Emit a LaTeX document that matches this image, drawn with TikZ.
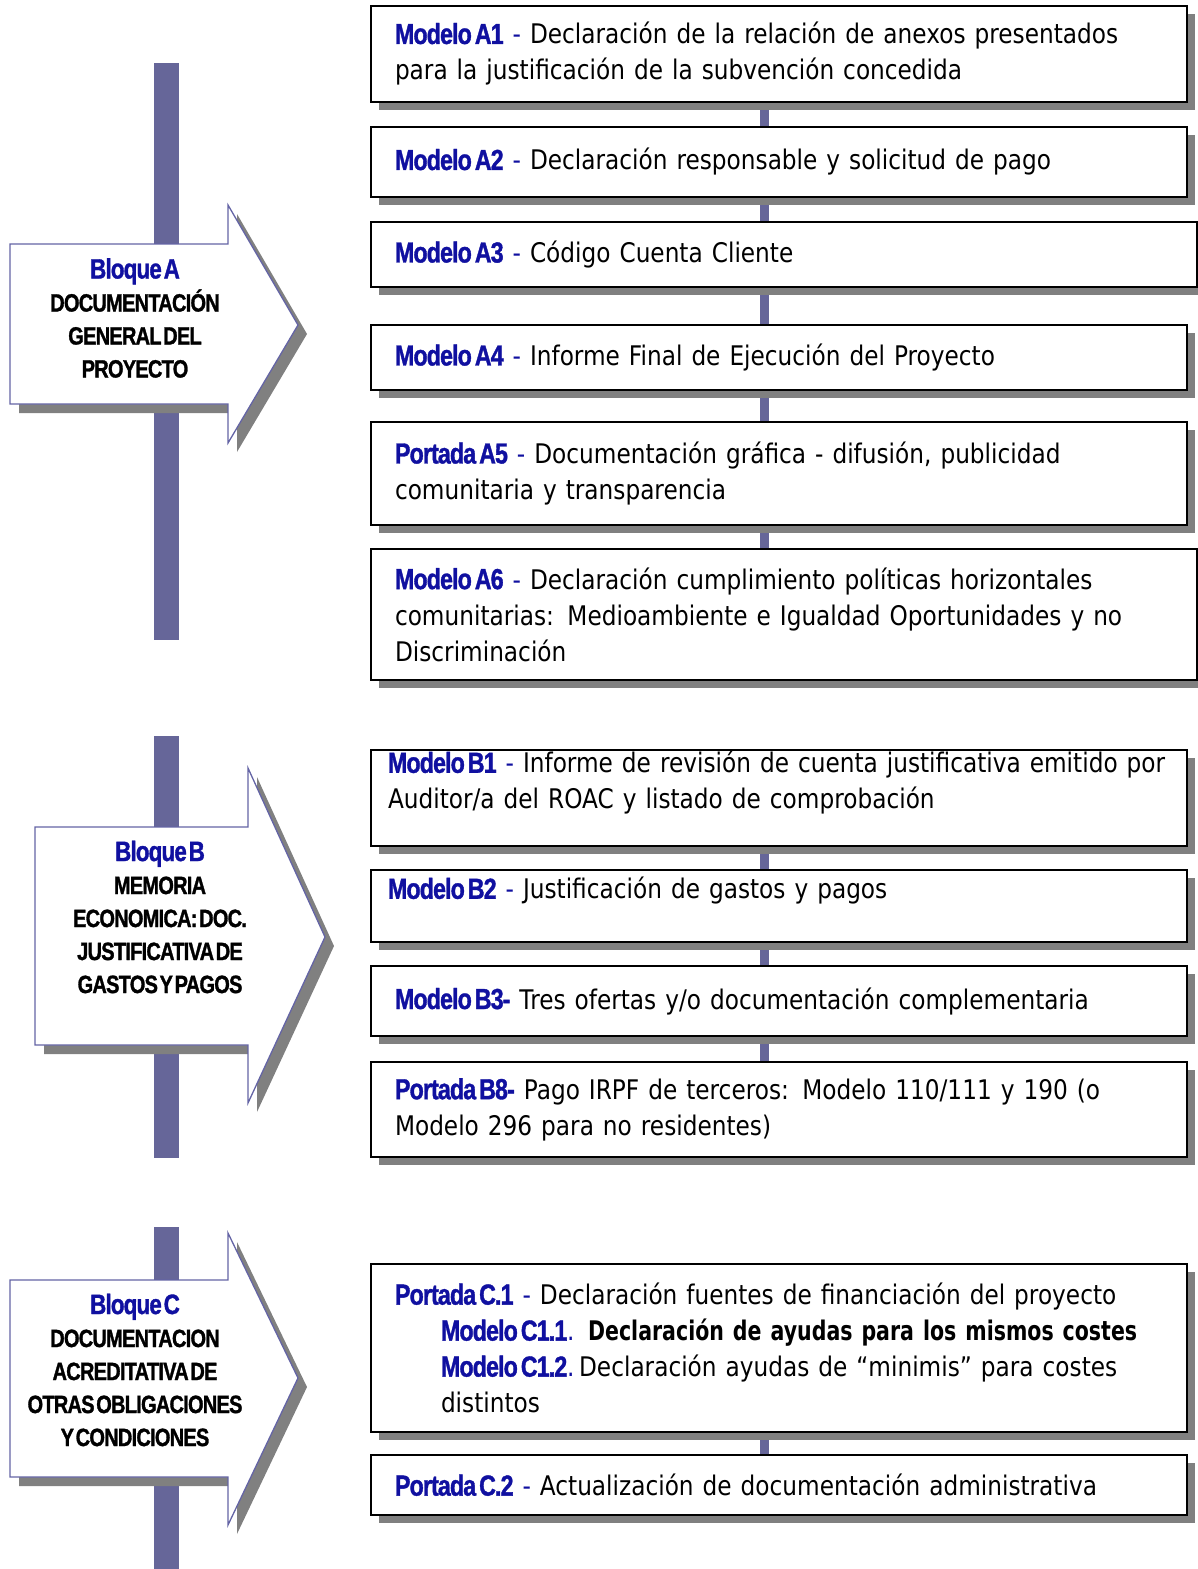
\documentclass[tikz,border=0pt]{standalone}
\usepackage{fontspec}
\setmainfont{DejaVu Sans}[FakeStretch=0.86]
\newfontfamily\narrowbold{Liberation Sans}[FakeStretch=0.8,LetterSpace=-3,WordSpace=0.35,FakeBold=1.2]
\newfontfamily\boldbody{DejaVu Sans}[FakeStretch=0.76]
\usepackage{tikz}
\usetikzlibrary{positioning, shadows, backgrounds}
\definecolor{blockblue}{RGB}{16,16,160}
\definecolor{barcolor}{RGB}{102,102,153}
\definecolor{shadegray}{RGB}{128,128,128}
\definecolor{arrowedge}{RGB}{100,100,165}
\newcommand{\modelo}[1]{{\color{blockblue}\narrowbold\bfseries\fontsize{29}{36}\selectfont\spaceskip=3pt\relax #1}}
\newcommand{\bluedash}{{\color{blockblue}\ -\ }}

\begin{document}
\begin{tikzpicture}[x=1pt, y=-1pt,
    box/.style={rectangle, draw=black, line width=2pt, fill=white, anchor=north west, outer sep=0pt, inner xsep=24pt, inner ysep=0pt, text width=768pt, align=left, font=\fontsize{27}{36}\selectfont, drop shadow={shadow xshift=8pt, shadow yshift=-8pt, fill=shadegray, opacity=1}},
    blockarrow/.style={draw=arrowedge, line width=1.3pt, fill=white, line join=miter, drop shadow={shadow xshift=9pt, shadow yshift=-9pt, fill=shadegray, opacity=1}},
    blocktext/.style={align=center, inner sep=0pt, font=\narrowbold\bfseries\fontsize{25}{33}\selectfont},
    link/.style={draw=barcolor, line width=9pt}
]
\useasboundingbox (0,0) rectangle (1198,1569);

% Block arrows
\path[blockarrow] (10,244) -- (228,244) -- (228,205) -- (298,325) -- (228,443) -- (228,404) -- (10,404) -- cycle;
\path[blockarrow] (35,827) -- (248,827) -- (248,768) -- (325,937) -- (248,1103) -- (248,1045) -- (35,1045) -- cycle;
\path[blockarrow] (10,1280) -- (228,1280) -- (228,1233) -- (298,1378) -- (228,1525) -- (228,1477) -- (10,1477) -- cycle;

\node[blocktext] (blqa) at (135,318) {{\color{blockblue}\fontsize{28}{33}\selectfont Bloque A}\\DOCUMENTACIÓN\\GENERAL DEL\\PROYECTO};
\node[blocktext] (blqb) at (160,917) {{\color{blockblue}\fontsize{28}{33}\selectfont Bloque B}\\MEMORIA\\ECONOMICA: DOC.\\JUSTIFICATIVA DE\\GASTOS Y PAGOS};
\node[blocktext] (blqc) at (135,1370) {{\color{blockblue}\fontsize{28}{33}\selectfont Bloque C}\\DOCUMENTACION\\ACREDITATIVA DE\\OTRAS OBLIGACIONES\\Y CONDICIONES};

% Bloque A
\node[box, minimum height=96pt] (a1) at (371,6) {\modelo{Modelo A1}\bluedash Declaración de la relación de anexos presentados\\para la justificación de la subvención concedida};
\node[box, minimum height=70pt, below=25pt of a1.south west, anchor=north west] (a2) {\modelo{Modelo A2}\bluedash Declaración responsable y solicitud de pago};
\node[box, minimum height=65pt, text width=778pt, below=25pt of a2.south west, anchor=north west] (a3) {\modelo{Modelo A3}\bluedash Código Cuenta Cliente};
\node[box, minimum height=65pt, below=38pt of a3.south west, anchor=north west] (a4) {\modelo{Modelo A4}\bluedash Informe Final de Ejecución del Proyecto};
\node[box, minimum height=103pt, below=32pt of a4.south west, anchor=north west] (a5) {\modelo{Portada A5}\bluedash Documentación gráfica - difusión, publicidad\\comunitaria y transparencia};
\node[box, minimum height=131pt, text width=778pt, below=24pt of a5.south west, anchor=north west] (a6) {\modelo{Modelo A6}\bluedash Declaración cumplimiento políticas horizontales\\comunitarias: Medioambiente e Igualdad Oportunidades y no\\Discriminación};

% Bloque B
\node[box, minimum height=96pt, inner xsep=17pt, text width=782pt] (b1) at (371,750) {\modelo{Modelo B1}\bluedash Informe de revisión de cuenta justificativa emitido por\\Auditor/a del ROAC y listado de comprobación\\\mbox{}};
\node[box, minimum height=72pt, inner xsep=17pt, text width=782pt, below=24pt of b1.south west, anchor=north west] (b2) {\modelo{Modelo B2}\bluedash Justificación de gastos y pagos\\\mbox{}};
\node[box, minimum height=70pt, below=24pt of b2.south west, anchor=north west] (b3) {\modelo{Modelo B3-} Tres ofertas y/o documentación complementaria};
\node[box, minimum height=95pt, below=26pt of b3.south west, anchor=north west] (b8) {\modelo{Portada B8-} Pago IRPF de terceros: Modelo 110/111 y 190 (o\\Modelo 296 para no residentes)};

% Bloque C
\node[box, minimum height=168pt] (c1) at (371,1264) {\modelo{Portada C.1}\bluedash Declaración fuentes de financiación del proyecto\\
  \hspace*{46pt}\modelo{Modelo C1.1}{\color{blockblue}.} {\boldbody\bfseries Declaración de ayudas para los mismos costes}\\
  \hspace*{46pt}\modelo{Modelo C1.2}{\color{blockblue}.}\,Declaración ayudas de “minimis” para costes\\
  \hspace*{46pt}distintos};
\node[box, minimum height=60pt, below=23pt of c1.south west, anchor=north west] (c2) {\modelo{Portada C.2}\bluedash Actualización de documentación administrativa};

% Bars and links behind
\coordinate (spine) at (764.5,0);
\begin{scope}[on background layer]
\fill[barcolor] (154,63) rectangle (179,640);
\fill[barcolor] (154,736) rectangle (179,1158);
\fill[barcolor] (154,1227) rectangle (179,1569);

\draw[link] (a1.south -| spine) -- (a2.north -| spine);
\draw[link] (a2.south -| spine) -- (a3.north -| spine);
\draw[link] (a3.south -| spine) -- (a4.north -| spine);
\draw[link] (a4.south -| spine) -- (a5.north -| spine);
\draw[link] (a5.south -| spine) -- (a6.north -| spine);

\draw[link] (b1.south -| spine) -- (b2.north -| spine);
\draw[link] (b2.south -| spine) -- (b3.north -| spine);
\draw[link] (b3.south -| spine) -- (b8.north -| spine);

\draw[link] (c1.south -| spine) -- (c2.north -| spine);
\end{scope}

\end{tikzpicture}
\end{document}
